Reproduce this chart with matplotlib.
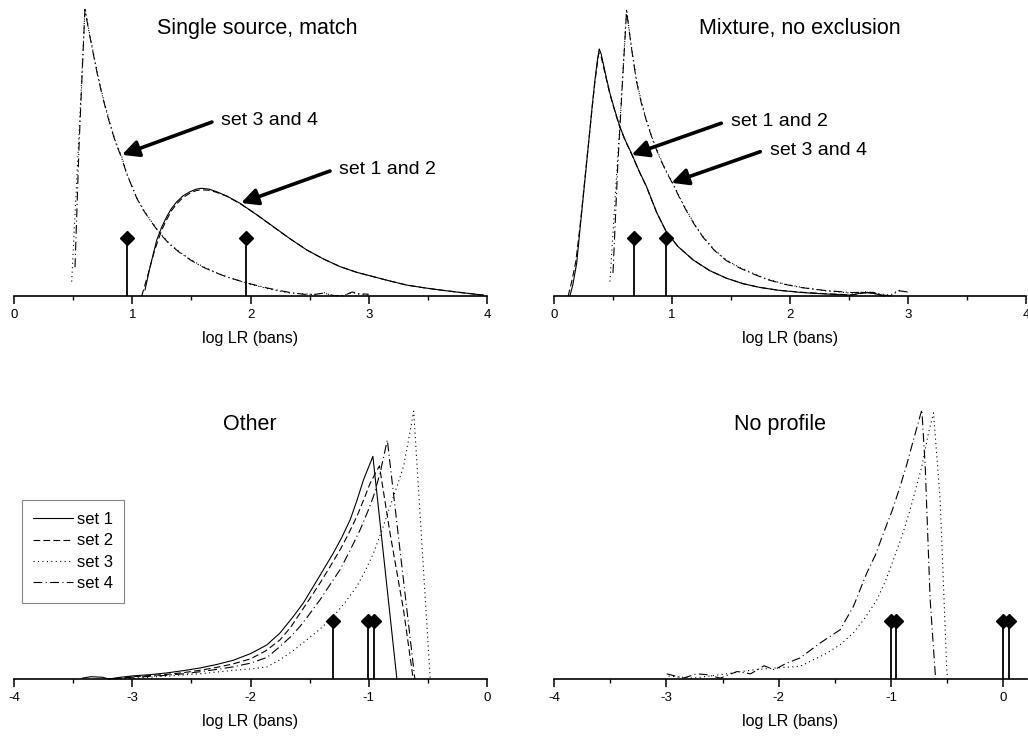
import numpy as np
import matplotlib
matplotlib.use("Agg")
from matplotlib import pyplot as plt

plt.rcParams['font.family'] = ['Liberation Sans', 'DejaVu Sans']
plt.rcParams['axes.unicode_minus'] = False

# ---- Single source, match ----
a_x1 = [1.108, 1.15, 1.207, 1.25, 1.291, 1.33, 1.376, 1.43, 1.488, 1.54, 1.587, 1.65, 1.714, 1.80, 1.911, 2.05, 2.193, 2.33, 2.475, 2.62, 2.757, 2.90, 3.04, 3.18, 3.32, 3.46, 3.60, 3.80, 3.97]
a_set1 = [0.021, 0.10, 0.194, 0.24, 0.275, 0.303, 0.327, 0.348, 0.362, 0.371, 0.374, 0.371, 0.362, 0.347, 0.322, 0.283, 0.241, 0.20, 0.16, 0.128, 0.102, 0.082, 0.067, 0.052, 0.038, 0.029, 0.021, 0.011, 0.003]
a_x2 = [1.08, 1.13, 1.19, 1.25, 1.291, 1.33, 1.376, 1.43, 1.488, 1.54, 1.587, 1.65, 1.714, 1.80, 1.911, 2.05, 2.193, 2.33, 2.475, 2.62, 2.757, 2.90, 3.04, 3.18, 3.32, 3.46, 3.60, 3.80, 3.97]
a_set2 = [0.0, 0.07, 0.16, 0.23, 0.265, 0.295, 0.32, 0.342, 0.357, 0.366, 0.369, 0.367, 0.36, 0.346, 0.321, 0.283, 0.24, 0.2, 0.16, 0.128, 0.102, 0.082, 0.067, 0.052, 0.038, 0.029, 0.021, 0.011, 0.003]
a_x3 = [0.488, 0.53, 0.57, 0.60, 0.635, 0.671, 0.705, 0.741, 0.775, 0.812, 0.86, 0.91, 0.95, 0.995, 1.04, 1.094, 1.16, 1.235, 1.32, 1.404, 1.50, 1.60, 1.70, 1.80, 1.97, 2.15, 2.334, 2.45, 2.55, 2.62, 2.70, 2.78, 2.86, 2.92, 3.0]
a_set3 = [0.05, 0.40, 0.73, 0.999, 0.92, 0.845, 0.775, 0.71, 0.655, 0.6, 0.535, 0.485, 0.43, 0.385, 0.34, 0.30, 0.26, 0.218, 0.18, 0.152, 0.125, 0.102, 0.083, 0.067, 0.044, 0.025, 0.01, 0.008, 0.004, 0.012, 0.0, 0.002, 0.012, 0.006, 0.004]
a_x4 = [0.516, 0.55, 0.575, 0.60, 0.635, 0.671, 0.705, 0.741, 0.775, 0.812, 0.86, 0.91, 0.95, 0.995, 1.04, 1.094, 1.16, 1.235, 1.32, 1.404, 1.50, 1.60, 1.70, 1.80, 1.97, 2.15, 2.334, 2.45, 2.55, 2.62, 2.70, 2.78, 2.86, 2.92, 3.0]
a_set4 = [0.10, 0.52, 0.76, 0.995, 0.915, 0.84, 0.77, 0.705, 0.65, 0.595, 0.532, 0.48, 0.428, 0.382, 0.338, 0.298, 0.258, 0.216, 0.178, 0.15, 0.123, 0.1, 0.082, 0.066, 0.045, 0.027, 0.012, 0.006, 0.006, 0.01, 0.002, 0.0, 0.014, 0.008, 0.006]
a_stems = [0.955, 1.96]

# ---- Mixture, no exclusion ----
b_x1 = [0.135, 0.16, 0.192, 0.22, 0.248, 0.276, 0.304, 0.325, 0.347, 0.365, 0.383, 0.40, 0.417, 0.445, 0.474, 0.515, 0.558, 0.605, 0.657, 0.72, 0.784, 0.87, 0.953, 1.05, 1.18, 1.32, 1.46, 1.60, 1.742, 1.90, 2.10, 2.30, 2.52, 2.62, 2.70, 2.80]
b_set1 = [0.0, 0.04, 0.113, 0.23, 0.345, 0.46, 0.576, 0.665, 0.75, 0.81, 0.858, 0.84, 0.808, 0.755, 0.704, 0.645, 0.588, 0.54, 0.495, 0.435, 0.38, 0.29, 0.222, 0.172, 0.125, 0.088, 0.062, 0.043, 0.03, 0.02, 0.012, 0.007, 0.003, 0.012, 0.01, 0.0]
b_x2 = [0.12, 0.15, 0.185, 0.22, 0.248, 0.276, 0.304, 0.325, 0.347, 0.365, 0.38, 0.40, 0.417, 0.445, 0.474, 0.515, 0.558, 0.605, 0.657, 0.72, 0.784, 0.87, 0.953, 1.05, 1.18, 1.32, 1.46, 1.60, 1.742, 1.90, 2.10, 2.30, 2.52, 2.62, 2.70, 2.80]
b_set2 = [0.0, 0.05, 0.12, 0.24, 0.35, 0.465, 0.575, 0.66, 0.745, 0.8, 0.845, 0.83, 0.8, 0.75, 0.7, 0.642, 0.585, 0.538, 0.493, 0.434, 0.379, 0.29, 0.222, 0.172, 0.125, 0.088, 0.062, 0.043, 0.03, 0.02, 0.013, 0.008, 0.004, 0.01, 0.013, 0.0]
b_x3 = [0.474, 0.52, 0.57, 0.615, 0.655, 0.699, 0.74, 0.784, 0.84, 0.896, 0.95, 1.009, 1.065, 1.122, 1.19, 1.263, 1.36, 1.46, 1.57, 1.686, 1.80, 1.95, 2.10, 2.30, 2.52, 2.65, 2.75, 2.85, 2.92, 3.00]
b_set3 = [0.05, 0.35, 0.68, 0.996, 0.87, 0.75, 0.675, 0.611, 0.54, 0.484, 0.435, 0.391, 0.343, 0.299, 0.25, 0.206, 0.16, 0.125, 0.1, 0.079, 0.06, 0.042, 0.03, 0.018, 0.01, 0.015, 0.008, 0.003, 0.02, 0.012]
b_x4 = [0.50, 0.54, 0.58, 0.615, 0.655, 0.699, 0.74, 0.784, 0.84, 0.896, 0.95, 1.009, 1.065, 1.122, 1.19, 1.263, 1.36, 1.46, 1.57, 1.686, 1.80, 1.95, 2.10, 2.30, 2.52, 2.65, 2.75, 2.85, 2.92, 3.00]
b_set4 = [0.08, 0.45, 0.74, 0.99, 0.865, 0.745, 0.67, 0.607, 0.537, 0.48, 0.432, 0.388, 0.34, 0.296, 0.248, 0.204, 0.158, 0.123, 0.098, 0.077, 0.058, 0.041, 0.029, 0.019, 0.012, 0.013, 0.006, 0.0, 0.018, 0.014]
b_stems = [0.68, 0.95]

# ---- Other ----
c_x1 = [-3.42, -3.35, -3.25, -3.20, -3.10, -2.99, -2.85, -2.71, -2.57, -2.43, -2.29, -2.146, -2.0, -1.863, -1.75, -1.638, -1.55, -1.468, -1.38, -1.30, -1.23, -1.157, -1.10, -1.044, -0.965, -0.762]
c_set1 = [0.003, 0.008, 0.006, 0.0, 0.006, 0.011, 0.015, 0.021, 0.029, 0.038, 0.05, 0.065, 0.088, 0.118, 0.16, 0.217, 0.266, 0.322, 0.382, 0.437, 0.49, 0.553, 0.62, 0.692, 0.773, 0.0]
c_x2 = [-3.15, -3.0, -2.85, -2.71, -2.57, -2.43, -2.29, -2.15, -2.0, -1.87, -1.75, -1.66, -1.58, -1.50, -1.412, -1.33, -1.242, -1.17, -1.10, -1.04, -0.988, -0.91, -0.819, -0.706, -0.635, -0.625]
c_set2 = [0.0, 0.008, 0.012, 0.016, 0.022, 0.03, 0.04, 0.052, 0.07, 0.098, 0.136, 0.18, 0.229, 0.278, 0.333, 0.388, 0.449, 0.505, 0.565, 0.625, 0.68, 0.74, 0.504, 0.24, 0.032, 0.0]
c_x3 = [-3.10, -2.90, -2.71, -2.57, -2.43, -2.29, -2.15, -2.0, -1.86, -1.75, -1.64, -1.524, -1.41, -1.30, -1.20, -1.10, -1.03, -0.96, -0.89, -0.819, -0.76, -0.706, -0.664, -0.62, -0.48]
c_set3 = [0.0, 0.005, 0.01, 0.014, 0.018, 0.024, 0.03, 0.035, 0.042, 0.067, 0.098, 0.136, 0.174, 0.217, 0.266, 0.322, 0.375, 0.437, 0.515, 0.6, 0.67, 0.738, 0.83, 0.93, 0.0]
c_x4 = [-3.20, -3.0, -2.85, -2.71, -2.57, -2.43, -2.29, -2.15, -2.0, -1.86, -1.75, -1.66, -1.58, -1.50, -1.412, -1.33, -1.242, -1.16, -1.073, -1.01, -0.96, -0.904, -0.843, -0.61]
c_set4 = [0.0, 0.006, 0.009, 0.013, 0.018, 0.025, 0.033, 0.042, 0.055, 0.075, 0.113, 0.147, 0.183, 0.226, 0.275, 0.326, 0.38, 0.445, 0.518, 0.58, 0.634, 0.715, 0.83, 0.0]
c_stems = [-1.30, -1.005, -0.954]

# ---- No profile ----
d_x3 = [-2.98, -2.76, -2.52, -2.22, -2.04, -1.81, -1.70, -1.572, -1.45, -1.335, -1.23, -1.126, -1.05, -0.979, -0.90, -0.83, -0.726, -0.667, -0.622, -0.563, -0.503, -0.49]
d_set3 = [0.01, 0.003, 0.015, 0.032, 0.038, 0.044, 0.065, 0.09, 0.12, 0.16, 0.213, 0.275, 0.34, 0.414, 0.5, 0.588, 0.738, 0.854, 0.924, 0.623, 0.02, 0.0]
d_x4 = [-2.997, -2.849, -2.73, -2.64, -2.52, -2.37, -2.25, -2.13, -2.04, -1.93, -1.81, -1.631, -1.453, -1.335, -1.216, -1.14, -1.067, -0.99, -0.919, -0.86, -0.80, -0.726, -0.696, -0.652, -0.607, -0.60]
d_set4 = [0.018, 0.003, 0.018, 0.015, 0.003, 0.026, 0.018, 0.046, 0.032, 0.055, 0.073, 0.125, 0.171, 0.252, 0.368, 0.43, 0.507, 0.585, 0.669, 0.745, 0.831, 0.935, 0.738, 0.275, 0.02, 0.0]
d_stems = [-0.999, -0.955, 0.0, 0.048]

stem_height = 0.2
styles = {1: '-', 2: (0, (6, 3)), 3: (0, (1, 3)), 4: (0, (8, 3, 1, 3))}
lw = 0.8

fig = plt.figure(figsize=(10.28, 7.36), dpi=100)
W, H = 1028, 736

def make_ax(left, right, axis_y, xlim, major, minor):
    ax = fig.add_axes([left / W, (H - axis_y) / H, (right - left) / W, 288 / H])
    ax.set_xlim(*xlim)
    ax.set_ylim(0, 1)
    for s in ['top', 'left', 'right']:
        ax.spines[s].set_visible(False)
    ax.spines['bottom'].set_linewidth(1.2)
    ax.set_yticks([])
    ax.set_xticks(major)
    ax.set_xticks(minor, minor=True)
    ax.tick_params(axis='x', which='major', length=5.5, width=1.1, pad=4, labelsize=9.5)
    ax.tick_params(axis='x', which='minor', length=3, width=1.0)
    ax.set_xlabel('log LR (bans)', fontsize=11.5, labelpad=7)
    ax.patch.set_alpha(0)
    return ax

def curve(ax, x, y, k, label=None):
    ax.plot(x, y, color='black', lw=lw, linestyle=styles[k], label=label, clip_on=False)

def stems(ax, xs):
    ax.vlines(xs, 0, stem_height, color='black', lw=1.3)
    ax.plot(xs, [stem_height] * len(xs), 'D', color='black', ms=7, clip_on=False)

def arrow(ax, tip, tail, text):
    ax.annotate('', xy=tip, xytext=tail,
                arrowprops=dict(arrowstyle='-|>', color='black', lw=2.6, mutation_scale=25,
                                shrinkA=0, shrinkB=0))
    ax.text(tail[0] + 0.08, tail[1] + 0.005, text, fontsize=14, va='center', ha='left')

# top-left
ax1 = make_ax(14, 487, 296, (0, 4), [0, 1, 2, 3, 4], [0.5, 1.5, 2.5, 3.5])
curve(ax1, a_x1, a_set1, 1)
curve(ax1, a_x2, a_set2, 2)
curve(ax1, a_x3, a_set3, 3)
curve(ax1, a_x4, a_set4, 4)
stems(ax1, a_stems)
arrow(ax1, (0.913, 0.49), (1.674, 0.604), 'set 3 and 4')
arrow(ax1, (1.92, 0.323), (2.672, 0.434), 'set 1 and 2')
ax1.text(0.514, 0.93, 'Single source, match', transform=ax1.transAxes, ha='center', va='center', fontsize=15.5)

# top-right
ax2 = make_ax(554, 1026, 296, (0, 4), [0, 1, 2, 3, 4], [0.5, 1.5, 2.5, 3.5])
curve(ax2, b_x1, b_set1, 1)
curve(ax2, b_x2, b_set2, 2)
curve(ax2, b_x3, b_set3, 3)
curve(ax2, b_x4, b_set4, 4)
stems(ax2, b_stems)
arrow(ax2, (0.657, 0.49), (1.418, 0.6), 'set 1 and 2')
arrow(ax2, (0.995, 0.393), (1.748, 0.501), 'set 3 and 4')
ax2.text(0.52, 0.93, 'Mixture, no exclusion', transform=ax2.transAxes, ha='center', va='center', fontsize=15.5)

# bottom-left
ax3 = make_ax(14, 487, 679, (-4, 0), [-4, -3, -2, -1, 0], [-3.5, -2.5, -1.5, -0.5])
curve(ax3, c_x1, c_set1, 1, 'set 1')
curve(ax3, c_x2, c_set2, 2, 'set 2')
curve(ax3, c_x3, c_set3, 3, 'set 3')
curve(ax3, c_x4, c_set4, 4, 'set 4')
stems(ax3, c_stems)
ax3.text(0.499, 0.885, 'Other', transform=ax3.transAxes, ha='center', va='center', fontsize=15.5)
leg = ax3.legend(loc='upper left', bbox_to_anchor=(0.016, 0.62), borderaxespad=0, fontsize=12,
                 frameon=True, fancybox=False, edgecolor='#666666', handlelength=2.4,
                 handletextpad=0.2, labelspacing=0.38, borderpad=0.7)
leg.get_frame().set_linewidth(0.8)

# bottom-right
ax4 = make_ax(554, 1027, 679, (-4, 0.21), [-4, -3, -2, -1, 0], [-3.5, -2.5, -1.5, -0.5])
curve(ax4, d_x3, d_set3, 3)
curve(ax4, d_x4, d_set4, 4)
stems(ax4, d_stems)
ax4.text(0.478, 0.885, 'No profile', transform=ax4.transAxes, ha='center', va='center', fontsize=15.5)

fig.savefig('out.png', dpi=100)
